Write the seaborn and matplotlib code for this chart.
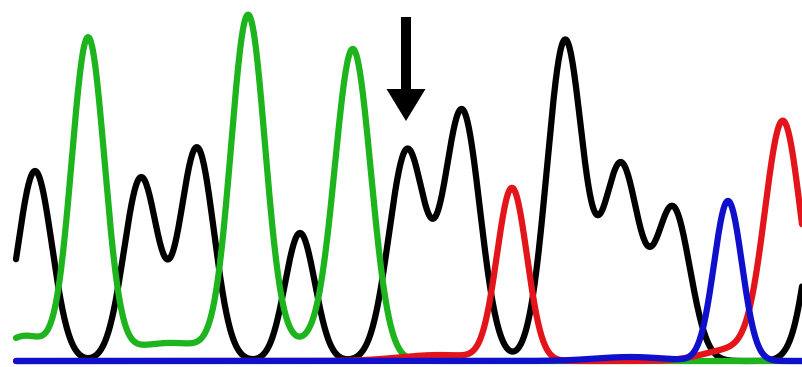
import numpy as np
import pandas as pd
import matplotlib
matplotlib.use("Agg")
import matplotlib.pyplot as plt
from matplotlib.patches import FancyArrow
import seaborn as sns

# ---- data (position in scan units, peak height, peak width) ----
channels = ["G", "A", "T", "C"]          # drawn in this order (black, green, red, blue)
colors = {"G": "#000000", "A": "#1db41d", "T": "#e3141a", "C": "#1010cc"}

g_pos = [35, 141, 197, 300, 407, 462, 565, 621, 673, 830]
g_amp = [190, 183, 213, 128, 210, 250, 320, 195, 152, 250]
g_wid = [17, 17, 17, 15, 18, 18, 18, 18, 17, 18]

a_pos = [88, 248, 353, 25, 170, 300]
a_amp = [320, 335, 305, 25, 18, 17]
a_wid = [16.5, 17, 18, 22, 45, 40]

t_pos = [512, 783, 440, 735]
t_amp = [172, 237, 6, 12]
t_wid = [15, 18, 40, 30]

c_pos = [728, 630]
c_amp = [160, 4]
c_wid = [14, 35]

scan_start, scan_end = 16, 802
marker_pos = 406          # arrow position
marker_top, marker_tip = 344, 240

peaks = {
    "G": (g_pos, g_amp, g_wid),
    "A": (a_pos, a_amp, a_wid),
    "T": (t_pos, t_amp, t_wid),
    "C": (c_pos, c_amp, c_wid),
}

scan = np.arange(scan_start, scan_end + 0.5, 0.5)
frames = []
for ch in channels:
    pos, amp, wid = peaks[ch]
    sig = np.zeros_like(scan)
    for p, a, w in zip(pos, amp, wid):
        sig += a * np.exp(-((scan - p) ** 2) / (2.0 * w ** 2))
    frames.append(pd.DataFrame({"scan": scan, "signal": sig, "base": ch}))
df = pd.concat(frames, ignore_index=True)

sns.set_style("white")
fig = plt.figure(figsize=(8.02, 3.67), dpi=100)
ax = fig.add_axes([0, 0, 1, 1])

sns.lineplot(data=df, x="scan", y="signal", hue="base", hue_order=channels,
             palette=colors, sort=False, estimator=None, linewidth=4.5,
             legend=False, ax=ax)

ax.add_patch(FancyArrow(marker_pos, marker_top, 0, marker_tip - marker_top,
                        width=10, head_width=39, head_length=32,
                        length_includes_head=True, color="black", lw=0))

ax.set_xlim(0, 802)
ax.set_ylim(-6, 361)
ax.set_axis_off()
fig.savefig("out.png", dpi=100, facecolor="white")
